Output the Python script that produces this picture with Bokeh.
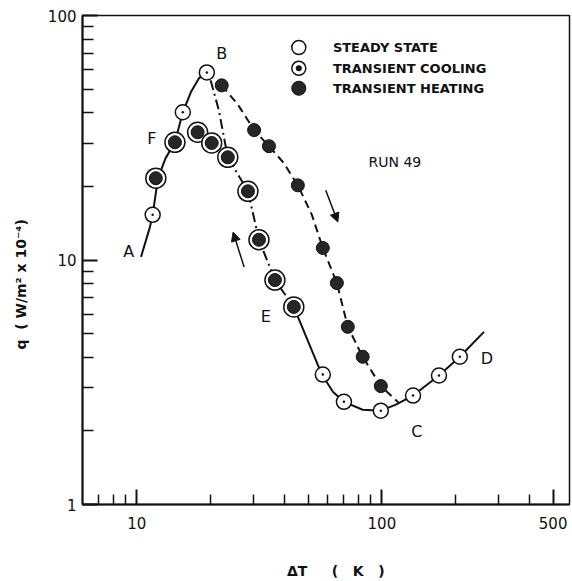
from bokeh.plotting import figure
from bokeh.models import FixedTicker, Arrow, NormalHead
from bokeh.core.properties import value
from bokeh.embed import file_html
from bokeh.resources import INLINE

# ---- data ----
steady_dT = [11.6, 15.4, 19.3, 57.4, 70.0, 99.0, 134.0, 171.0, 208.0]
steady_q = [15.3, 40.2, 58.5, 3.40, 2.63, 2.42, 2.79, 3.37, 4.02]

cooling_dT = [11.95, 14.3, 17.7, 20.2, 23.5, 28.4, 31.5, 36.6, 43.7]
cooling_q = [21.6, 30.3, 33.3, 30.1, 26.3, 19.1, 12.1, 8.28, 6.43]

heating_dT = [22.2, 30.1, 34.6, 45.4, 57.4, 65.5, 72.6, 83.5, 99.0]
heating_q = [51.8, 34.0, 29.2, 20.2, 11.2, 8.05, 5.33, 4.02, 3.05]

# rising branch A -> B (solid)
branch_AB_dT = [10.4, 11.3, 11.6, 12.2, 13.1, 14.3, 15.4, 16.6, 17.9, 19.3]
branch_AB_q = [10.3, 13.6, 15.3, 21.6, 26.1, 30.3, 40.2, 48.5, 55.3, 58.5]

# cooling branch from B downwards (dash-dot)
branch_BE_dT = [20.0, 21.6, 23.5, 28.4, 31.5, 36.6, 43.7]
branch_BE_q = [54.3, 41.0, 26.3, 19.1, 12.1, 8.28, 6.43]

# lower branch E -> C -> D (solid)
branch_ECD_dT = [43.7, 56.9, 63.1, 70.0, 83.5, 99.0, 114.0, 134.0, 171.0, 208.0, 261.0]
branch_ECD_q = [6.43, 3.40, 2.89, 2.63, 2.44, 2.42, 2.56, 2.79, 3.37, 4.02, 5.08]

# heating branch (dashed)
branch_H_dT = [22.2, 25.8, 30.1, 34.6, 39.8, 45.4, 51.8, 57.4, 65.5, 72.6, 83.5, 99.0, 117.0]
branch_H_q = [51.8, 43.3, 34.0, 29.2, 24.9, 20.2, 15.3, 11.2, 8.05, 5.33, 4.02, 3.05, 2.61]

point_labels = ["A", "B", "C", "D", "E", "F"]
point_label_dT = [9.27, 22.2, 139.0, 268.0, 33.6, 11.5]
point_label_q = [10.8, 69.9, 1.98, 3.95, 5.85, 31.5]

run_label = "RUN 49"
run_label_dT = [113.0]
run_label_q = [25.1]

legend_names = ["STEADY STATE", "TRANSIENT COOLING", "TRANSIENT HEATING"]
legend_marker_dT = 45.8
legend_text_dT = 63.1
legend_q = [74.0, 60.8, 50.4]

# arrows: (x_start, y_start, x_end, y_end)
arrow_down = (59.0, 19.3, 66.1, 14.3)
arrow_up = (27.4, 9.36, 24.7, 13.0)

x_ticks = [10, 100, 500]
x_minor = [7, 8, 9, 20, 30, 40, 50, 60, 70, 80, 90, 200, 300, 400]
y_ticks = [1, 10, 100]
y_minor = [2, 3, 4, 5, 6, 7, 8, 9, 20, 30, 40, 50, 60, 70, 80, 90]

NB = "\u00a0"
# leading no-break spaces nudge the centred title to the right, as in the original
x_title = NB * 4 + "ΔT" + NB * 5 + "(" + NB * 3 + "K" + NB * 3 + ")"
# trailing no-break spaces shift the visible (rotated) title down to where it sits in the original
y_title = "q" + NB * 2 + "(" + NB + "W/m²" + NB + "x" + NB + "10⁻⁴)" + NB * 10

FONT = "DejaVu Sans"
INK = "#111111"
DARK = "#262626"

p = figure(width=572, height=581, x_axis_type="log", y_axis_type="log",
           x_range=(6, 583), y_range=(1, 100),
           output_backend="svg", toolbar_location=None,
           min_border_left=82, min_border_right=3, min_border_top=15, min_border_bottom=76)

p.xgrid.visible = False
p.ygrid.visible = False
p.outline_line_color = INK
p.outline_line_width = 1.5
p.background_fill_color = "white"
p.border_fill_color = "white"

p.xaxis.ticker = FixedTicker(ticks=x_ticks, minor_ticks=x_minor)
p.yaxis.ticker = FixedTicker(ticks=y_ticks, minor_ticks=y_minor)
p.xaxis.major_label_overrides = {10: "10", 100: "100", 500: "500"}
p.yaxis.major_label_overrides = {1: "1", 10: "10", 100: "100"}

for ax in (p.xaxis[0], p.yaxis[0]):
    ax.axis_line_width = 2
    ax.axis_line_color = INK
    ax.major_tick_in = 15
    ax.major_tick_out = 0
    ax.minor_tick_out = 0
    ax.major_tick_line_width = 2
    ax.minor_tick_line_width = 1.5
    ax.major_tick_line_color = INK
    ax.minor_tick_line_color = INK
    ax.major_label_text_font = FONT
    ax.major_label_text_font_size = "15px"
    ax.major_label_text_color = INK
    ax.axis_label_text_font = FONT
    ax.axis_label_text_font_size = "14px"
    ax.axis_label_text_font_style = "bold"
    ax.axis_label_text_color = INK

p.xaxis.minor_tick_in = 10
p.yaxis.minor_tick_in = 11
p.xaxis.major_label_standoff = 12
p.yaxis.major_label_standoff = 6
p.xaxis.axis_label = x_title
p.xaxis.axis_label_standoff = 31
p.yaxis.axis_label = y_title
p.yaxis.axis_label_standoff = 16

# ---- curves ----
p.line(branch_AB_dT, branch_AB_q, line_color=INK, line_width=2)
p.line(branch_BE_dT, branch_BE_q, line_color=INK, line_width=2, line_dash="10 4 2 4")
p.line(branch_ECD_dT, branch_ECD_q, line_color=INK, line_width=2)
p.line(branch_H_dT, branch_H_q, line_color=INK, line_width=2, line_dash="8 5")

# ---- markers ----
p.scatter(steady_dT, steady_q, marker="circle", size=15, fill_color="white",
          line_color=INK, line_width=1.5)
p.scatter(steady_dT, steady_q, marker="circle", size=2.5, fill_color=INK, line_color=None)

p.scatter(cooling_dT, cooling_q, marker="circle", size=20, fill_color="white",
          line_color=INK, line_width=1.5)
p.scatter(cooling_dT, cooling_q, marker="circle", size=13, fill_color=DARK,
          line_color=INK, line_width=1)

p.scatter(heating_dT, heating_q, marker="circle", size=13, fill_color=DARK,
          line_color=INK, line_width=1)

# ---- arrows ----
for (xs, ys, xe, ye) in (arrow_down, arrow_up):
    p.add_layout(Arrow(end=NormalHead(size=9, fill_color=INK, line_color=INK),
                       x_start=xs, y_start=ys, x_end=xe, y_end=ye,
                       line_color=INK, line_width=1.5))

# ---- point labels ----
p.text(point_label_dT, point_label_q, text=point_labels, text_font=value(FONT),
       text_font_size="16px", text_align="center", text_baseline="middle", text_color=INK)
p.text(run_label_dT, run_label_q, text=[run_label], text_font=value(FONT),
       text_font_size="14px", text_align="center", text_baseline="middle", text_color=INK)

# ---- legend (manual) ----
lx = [legend_marker_dT] * 3
p.scatter([lx[0]], [legend_q[0]], marker="circle", size=14, fill_color="white",
          line_color=INK, line_width=1.5)
p.scatter([lx[1]], [legend_q[1]], marker="circle", size=14, fill_color="white",
          line_color=INK, line_width=1.5)
p.scatter([lx[1]], [legend_q[1]], marker="circle", size=6, fill_color=INK, line_color=None)
p.scatter([lx[2]], [legend_q[2]], marker="circle", size=14, fill_color=DARK,
          line_color=INK, line_width=1)
p.text([legend_text_dT] * 3, legend_q, text=legend_names, text_font=value(FONT),
       text_font_size="13px", text_font_style="bold", text_align="left",
       text_baseline="middle", text_color=INK)

open("out.html", "w").write(file_html(p, INLINE))
